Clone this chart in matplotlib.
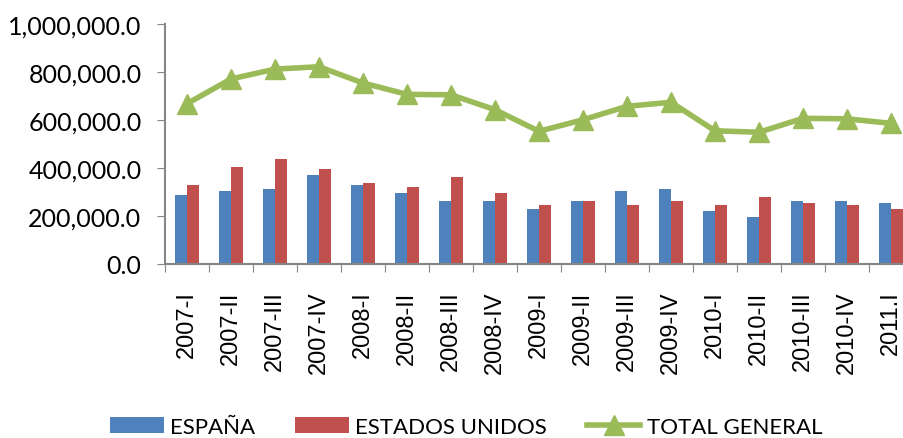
import numpy as np
import matplotlib
matplotlib.use('Agg')
from matplotlib import pyplot as plt
from matplotlib.ticker import FuncFormatter

periods = ["2007-I", "2007-II", "2007-III", "2007-IV",
           "2008-I", "2008-II", "2008-III", "2008-IV",
           "2009-I", "2009-II", "2009-III", "2009-IV",
           "2010-I", "2010-II", "2010-III", "2010-IV", "2011.I"]
espana = [286000, 303000, 311000, 370000, 328000, 295000, 261000, 261000,
          228000, 261000, 303000, 311000, 220000, 195000, 261000, 261000, 253000]
estados_unidos = [328000, 403000, 436000, 395000, 336000, 320000, 361000, 295000,
                  245000, 261000, 245000, 261000, 245000, 278000, 253000, 245000, 228000]
total_general = [668000, 771000, 812000, 822000, 754000, 707000, 705000, 643000,
                 553000, 601000, 657000, 674000, 555000, 549000, 607000, 605000, 586000]

BLUE = "#4F81BD"
RED = "#C0504D"
GREEN = "#9BBB59"
AXIS = "#868686"

plt.rcParams['font.family'] = ['Lato', 'DejaVu Sans']

fig = plt.figure(figsize=(9.04, 4.39), dpi=100)
ax = fig.add_axes([165 / 904, (439 - 265) / 439, 748 / 904, 240 / 439])

x = np.arange(len(periods))
w = 0.27
b1 = ax.bar(x - w / 2, espana, width=w, color=BLUE, label="ESPAÑA")
b2 = ax.bar(x + w / 2, estados_unidos, width=w, color=RED, label="ESTADOS UNIDOS")
l1, = ax.plot(x, total_general, color=GREEN, linewidth=4, marker='^', markersize=14,
              label="TOTAL GENERAL", zorder=3)

ax.set_xlim(-0.5, len(periods) - 0.5)
ax.set_ylim(0, 1000000)
ax.set_yticks(np.arange(0, 1000001, 200000))
ax.yaxis.set_major_formatter(FuncFormatter(lambda v, p: f"{v:,.1f}"))
ax.set_xticks(np.arange(-0.5, len(periods), 1), minor=False)
ax.set_xticklabels([])
ax.set_xticks(x, minor=True)
ax.set_xticklabels(periods, minor=True, rotation=90, fontsize=17,
                   family=['Liberation Sans', 'DejaVu Sans'])
ax.tick_params(axis='x', which='minor', length=0, pad=19)
ax.tick_params(axis='x', which='major', length=6, color=AXIS, direction='out')
ax.tick_params(axis='y', length=6, color=AXIS, labelsize=18, pad=11)

for side in ['top', 'right']:
    ax.spines[side].set_visible(False)
for side in ['left', 'bottom']:
    ax.spines[side].set_color(AXIS)
    ax.spines[side].set_linewidth(1.5)

fig.legend([b1, b2, l1], ["ESPAÑA", "ESTADOS UNIDOS", "TOTAL GENERAL"],
           loc='center', bbox_to_anchor=(0.516, 11 / 439), ncol=3,
           frameon=False, fontsize=16, handlelength=2.4, handleheight=0.7,
           columnspacing=1.8, handletextpad=0.3)

fig.savefig("out.png", dpi=100)
